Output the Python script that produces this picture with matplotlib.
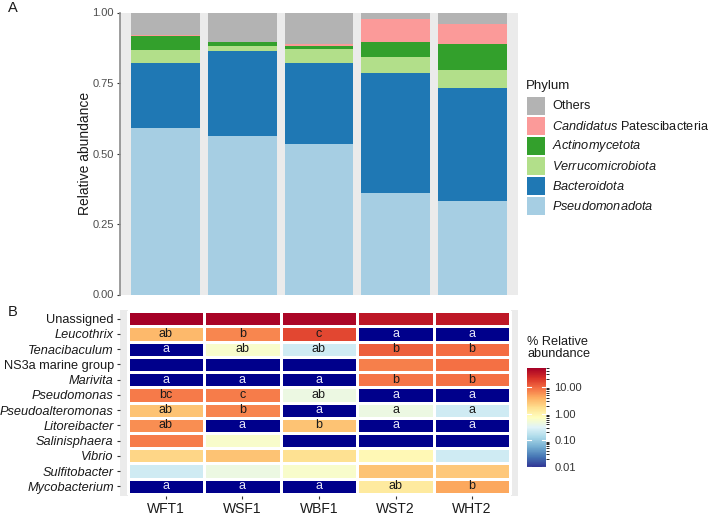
import matplotlib
matplotlib.use('Agg')
import matplotlib.pyplot as plt
import matplotlib.patches as patches
from matplotlib.colors import LogNorm
import numpy as np

plt.rcParams['font.family'] = ['Liberation Sans', 'DejaVu Sans']
plt.rcParams['mathtext.fontset'] = 'custom'
plt.rcParams['mathtext.it'] = 'Liberation Sans:italic'
plt.rcParams['mathtext.rm'] = 'Liberation Sans'

W, H = 708, 516

# ---- data ----
samples = ['WFT1', 'WSF1', 'WBF1', 'WST2', 'WHT2']

# stacked from bottom to top
phyla = ['Pseudomonadota', 'Bacteroidota', 'Verrucomicrobiota',
         'Actinomycetota', 'Candidatus Patescibacteria', 'Others']
pseudomonadota = [0.591, 0.561, 0.535, 0.359, 0.330]
bacteroidota = [0.229, 0.304, 0.285, 0.428, 0.402]
verrucomicrobiota = [0.046, 0.017, 0.052, 0.055, 0.064]
actinomycetota = [0.052, 0.012, 0.010, 0.052, 0.092]
patescibacteria = [0.003, 0.003, 0.006, 0.083, 0.071]
others = [0.079, 0.103, 0.112, 0.023, 0.041]
phylum_colors = ['#A6CEE3', '#1F78B4', '#B2DF8A', '#33A02C', '#FB9A99', '#B3B3B3']

genera = ['Unassigned', 'Leucothrix', 'Tenacibaculum', 'NS3a marine group',
          'Marivita', 'Pseudomonas', 'Pseudoalteromonas', 'Litoreibacter',
          'Salinisphaera', 'Vibrio', 'Sulfitobacter', 'Mycobacterium']
italic_genus = [False, True, True, False, True, True, True, True, True, True, True, True]

# % relative abundance, 0 = not detected
abund = [
    [50.0, 47.0, 45.0, 34.0, 33.0],
    [3.3, 6.6, 15.5, 0, 0],
    [0, 0.6, 0.23, 11.0, 9.3],
    [0, 0, 0, 7.2, 9.0],
    [0, 0, 0, 8.4, 9.0],
    [7.8, 7.5, 0.43, 0, 0],
    [2.8, 6.8, 0, 0.43, 0.23],
    [6.0, 0, 2.8, 0, 0],
    [7.5, 0.6, 0, 0, 0],
    [2.0, 2.8, 1.6, 0.85, 0.23],
    [0.23, 0.43, 0.6, 2.8, 2.5],
    [0, 0, 0, 1.3, 4.3],
]

letters = [
    ['', '', '', '', ''],
    ['ab', 'b', 'c', 'a', 'a'],
    ['a', 'ab', 'ab', 'b', 'b'],
    ['', '', '', '', ''],
    ['a', 'a', 'a', 'b', 'b'],
    ['bc', 'c', 'ab', 'a', 'a'],
    ['ab', 'b', 'a', 'a', 'a'],
    ['ab', 'a', 'b', 'a', 'a'],
    ['', '', '', '', ''],
    ['', '', '', '', ''],
    ['', '', '', '', ''],
    ['a', 'a', 'a', 'ab', 'b'],
]

cbar_ticks = [0.01, 0.1, 1, 10]


def fx(x):
    return x / W


def fy(y):
    return 1 - y / H


fig = plt.figure(figsize=(W / 100, H / 100), dpi=100)

# ---- panel A: stacked bars ----
axA = fig.add_axes([fx(120), fy(294.5), fx(398), 282 / H])
axA.set_facecolor('#EBEBEB')
x = np.arange(1, len(samples) + 1)
series = [pseudomonadota, bacteroidota, verrucomicrobiota,
          actinomycetota, patescibacteria, others]
bottom = np.zeros(len(samples))
for vals, col in zip(series, phylum_colors):
    axA.bar(x, vals, width=0.9, bottom=bottom, color=col, linewidth=0)
    bottom += np.array(vals)
axA.set_xlim(0.4, 5.6)
axA.set_ylim(0, 1)
axA.set_yticks([0, 0.25, 0.5, 0.75, 1.0])
axA.set_yticklabels(['0.00', '0.25', '0.50', '0.75', '1.00'])
axA.set_xticks([])
for s in ['top', 'right', 'bottom']:
    axA.spines[s].set_visible(False)
axA.spines['left'].set_color('#8C8C8C')
axA.spines['left'].set_linewidth(1.2)
axA.tick_params(axis='y', length=2.5, width=0.8, color='#333333',
                labelsize=8, labelcolor='#4D4D4D', pad=2)
axA.set_ylabel('Relative abundance', fontsize=10, color='#1A1A1A', labelpad=0)

# legend for phyla
fig.text(fx(526), fy(86), 'Phylum', fontsize=9.5, ha='left', va='center', color='#1A1A1A')
leg_labels = ['Others', r'$\it{Candidatus}$ Patescibacteria', r'$\it{Actinomycetota}$',
              r'$\it{Verrucomicrobiota}$', r'$\it{Bacteroidota}$', r'$\it{Pseudomonadota}$']
leg_colors = phylum_colors[::-1]
for i, (lab, col) in enumerate(zip(leg_labels, leg_colors)):
    yc = 106 + 20 * i
    fig.patches.append(patches.Rectangle((fx(527), fy(yc + 9)), fx(18), 18 / H,
                                         transform=fig.transFigure, facecolor=col,
                                         edgecolor='none'))
    fig.text(fx(552), fy(yc), lab, fontsize=9.2, ha='left', va='center', color='#1A1A1A')

# ---- panel B: heatmap ----
axB = fig.add_axes([fx(120), fy(495.5), fx(398), 186 / H])
axB.set_facecolor('#EBEBEB')
data = np.array(abund, dtype=float)
masked = np.ma.masked_where(data <= 0, data)
cmap = plt.get_cmap('RdYlBu_r').copy()
cmap.set_bad('#00008B')
norm = LogNorm(vmin=0.01, vmax=51)
xe = np.arange(0.5, len(samples) + 1, 1)
ye = np.arange(0.5, len(genera) + 1, 1)
axB.pcolormesh(xe, ye, masked, cmap=cmap, norm=norm, edgecolors='white', linewidth=0.8)
axB.set_xlim(0.4, 5.6)
axB.set_ylim(12.6, 0.4)
for i in range(len(genera)):
    for j in range(len(samples)):
        t = letters[i][j]
        if t:
            c = '#E8E8F8' if abund[i][j] <= 0 else '#1A1A1A'
            axB.text(j + 1, i + 1, t, ha='center', va='center', fontsize=9, color=c)
axB.set_xticks(x)
axB.set_xticklabels(samples)
axB.set_yticks(np.arange(1, len(genera) + 1))
axB.set_yticklabels(genera)
for lab, it in zip(axB.get_yticklabels(), italic_genus):
    if it:
        lab.set_style('italic')
for s in axB.spines.values():
    s.set_visible(False)
axB.tick_params(axis='y', length=2.5, width=0.8, color='#333333',
                labelsize=9.2, labelcolor='#1A1A1A', pad=2)
axB.tick_params(axis='x', length=2.5, width=0.8, color='#333333',
                labelsize=10, labelcolor='#1A1A1A', pad=2)

# colorbar
fig.text(fx(527), fy(348), '% Relative\nabundance', fontsize=9.2, ha='left', va='center',
         color='#1A1A1A', linespacing=1.0)
cax = fig.add_axes([fx(527), fy(467), fx(19), 99 / H])
sm = plt.cm.ScalarMappable(norm=norm, cmap=cmap)
cb = fig.colorbar(sm, cax=cax, ticks=cbar_ticks)
cb.outline.set_visible(False)
cb.ax.set_yticklabels(['0.01', '0.10', '1.00', '10.00'])
cb.ax.tick_params(length=0, labelsize=8, labelcolor='#333333', pad=6)
for tv in cbar_ticks:
    cax.plot([0, 0.2], [tv, tv], color='white', lw=0.8, transform=cax.get_yaxis_transform())
    cax.plot([0.8, 1.0], [tv, tv], color='white', lw=0.8, transform=cax.get_yaxis_transform())

# panel tags
fig.text(fx(8), fy(8), 'A', fontsize=10.5, ha='left', va='center', color='#1A1A1A')
fig.text(fx(8), fy(312), 'B', fontsize=10.5, ha='left', va='center', color='#1A1A1A')

fig.savefig('out.png', dpi=100, facecolor='white')
plt.close(fig)
